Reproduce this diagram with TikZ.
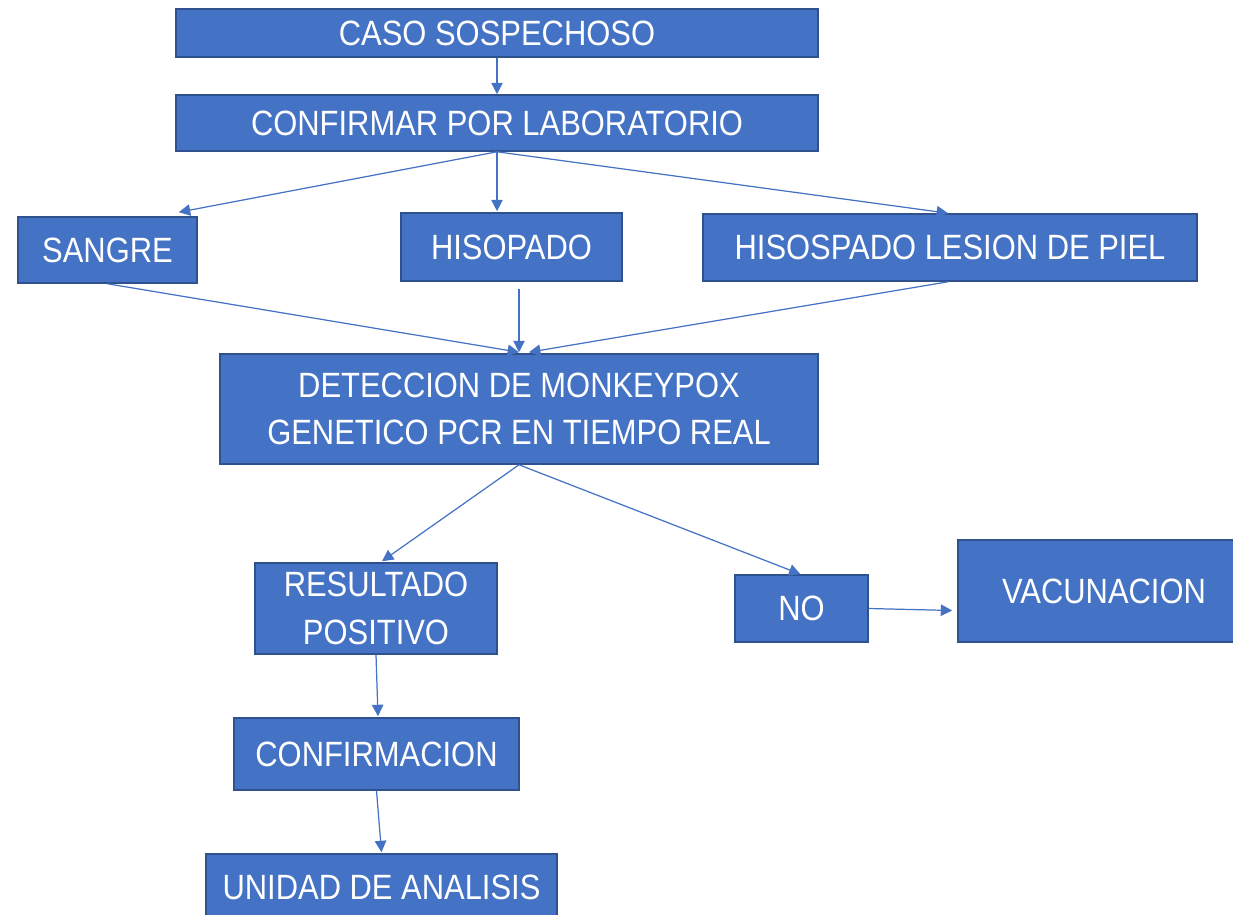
\documentclass[tikz,border=0pt]{standalone}
\usepackage{fontspec}
\setmainfont{Liberation Sans}[FakeStretch=0.88]
\usetikzlibrary{arrows.meta,calc}
\definecolor{boxfill}{HTML}{4472C4}
\definecolor{boxline}{HTML}{2F528F}
\definecolor{arrcol}{HTML}{4472C4}
\tikzset{
  fbox/.style={draw=boxline, line width=0.9pt, fill=boxfill, text=white, inner sep=0pt, align=center, font=\fontsize{20}{27}\selectfont},
  arr/.style={draw=arrcol, line width=0.7pt, -{Triangle[length=6.5pt,width=6.5pt]}}
}
\begin{document}
\begin{tikzpicture}[x=0.02cm,y=-0.02cm]
\useasboundingbox (0,0) rectangle (1233,915);
\clip (0,0) rectangle (1233,915);
\node[fbox, minimum width=642*0.02cm, minimum height=48*0.02cm] (caso) at (497,33) {CASO SOSPECHOSO};
\node[fbox, minimum width=642*0.02cm, minimum height=56*0.02cm] (lab) at (497,123) {CONFIRMAR POR LABORATORIO};
\node[fbox, minimum width=179*0.02cm, minimum height=66*0.02cm] (sangre) at (107.5,250) {SANGRE};
\node[fbox, minimum width=221*0.02cm, minimum height=68*0.02cm] (hisopado) at (511.5,247) {HISOPADO};
\node[fbox, minimum width=494*0.02cm, minimum height=67*0.02cm] (piel) at (950,247.5) {HISOSPADO LESION DE PIEL};
\node[fbox, minimum width=598*0.02cm, minimum height=110*0.02cm] (detec) at (519,409) {DETECCION DE MONKEYPOX\\GENETICO PCR EN TIEMPO REAL};
\node[fbox, minimum width=242*0.02cm, minimum height=91*0.02cm] (res) at (376,608.5) {RESULTADO\\POSITIVO};
\node[fbox, minimum width=133*0.02cm, minimum height=67*0.02cm] (no) at (801.5,608.5) {NO};
\node[fbox, minimum width=292*0.02cm, minimum height=102*0.02cm] (vac) at (1104,591) {VACUNACION};
\node[fbox, minimum width=285*0.02cm, minimum height=72*0.02cm] (conf) at (376.5,754) {CONFIRMACION};
\node[fbox, minimum width=351*0.02cm, minimum height=66*0.02cm] (uni) at (381.5,887) {UNIDAD DE ANALISIS};
\draw[arr] (caso.south) -- (lab.north);
\draw[arr] (lab.south) -- ($(sangre.north east)+(-19,-4)$);
\draw[arr] (lab.south) -- ($(lab.south |- hisopado.north)+(0,-1)$);
\draw[arr] (lab.south) -- ($(piel.north)+(-2,0)$);
\draw[arr] (sangre.south) -- ($(detec.north)+(0,-1)$);
\draw[arr] ($(detec.north |- hisopado.south)+(0,7)$) -- ($(detec.north)+(0,-1)$);
\draw[arr] ($(piel.south)+(-2,0)$) -- ($(detec.north)+(10,-1)$);
\draw[arr] (detec.south) -- ($(res.north)+(6,-1)$);
\draw[arr] (detec.south) -- ($(no.north)+(-1,0)$);
\draw[arr] (no.east) -- ($(no.east -| vac.west)+(-5,2)$);
\draw[arr] (res.south) -- ($(conf.north)+(1.5,-1)$);
\draw[arr] (conf.south) -- ($(uni.north)+(0,-1)$);
\end{tikzpicture}
\end{document}
